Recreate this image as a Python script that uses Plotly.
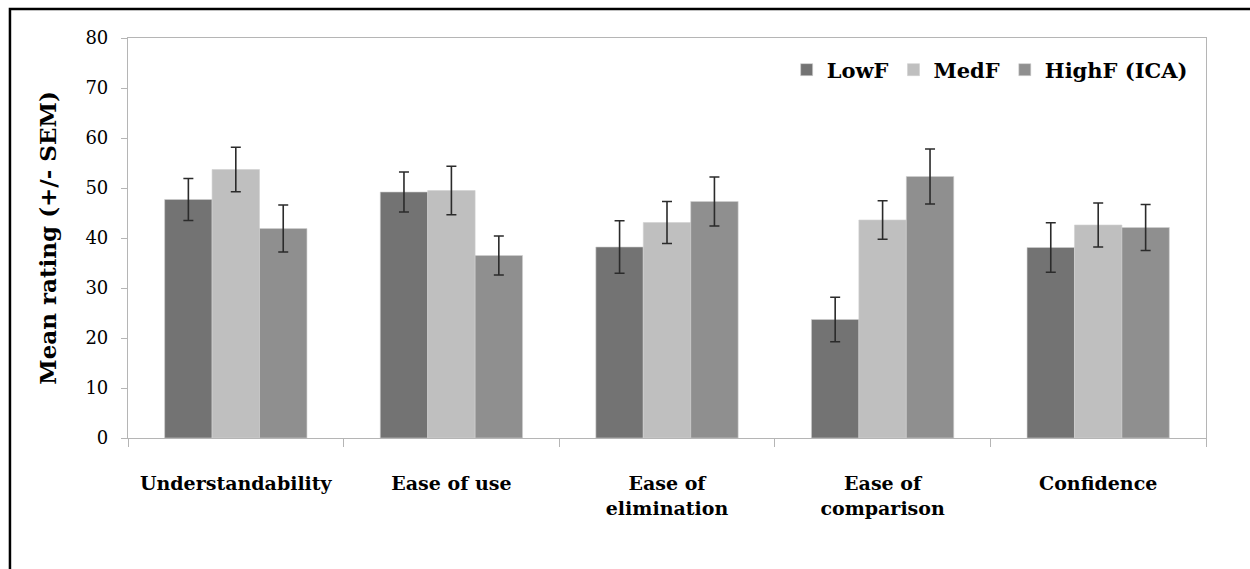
import plotly.graph_objects as go

categories = ["Understandability", "Ease of use", "Ease of<br>elimination", "Ease of<br>comparison", "Confidence"]
series_names = ["LowF", "MedF", "HighF (ICA)"]
low_vals = [47.7, 49.2, 38.2, 23.7, 38.1]
low_err = [4.2, 4.0, 5.25, 4.45, 4.95]
med_vals = [53.7, 49.5, 43.1, 43.6, 42.6]
med_err = [4.45, 4.85, 4.2, 3.85, 4.4]
high_vals = [41.9, 36.5, 47.3, 52.3, 42.1]
high_err = [4.7, 3.9, 4.9, 5.5, 4.6]
y_ticks = [0, 10, 20, 30, 40, 50, 60, 70, 80]

colors = ["#737373", "#bfbfbf", "#8f8f8f"]
FONT = "DejaVu Serif"

fig = go.Figure()
for name, vals, errs, col in zip(series_names, [low_vals, med_vals, high_vals],
                                 [low_err, med_err, high_err], colors):
    fig.add_trace(go.Bar(
        x=categories, y=vals, name="<b>" + name + "</b>",
        marker=dict(color=col, line=dict(color="#d0d0d0", width=0.6)),
        error_y=dict(type="data", array=errs, visible=True,
                     color="#2b2b2b", thickness=1.6, width=5),
    ))

fig.update_layout(
    width=1250, height=569,
    barmode="group", bargap=0.34, bargroupgap=0,
    plot_bgcolor="white", paper_bgcolor="white",
    margin=dict(l=128, r=44, t=38, b=131),
    font=dict(family=FONT, color="black"),
    legend=dict(orientation="h", x=0.611, y=0.92, xanchor="left", yanchor="middle",
                font=dict(family=FONT, size=21, color="black"),
                bgcolor="rgba(0,0,0,0)", itemwidth=30, traceorder="normal"),
    shapes=[dict(type="rect", xref="paper", yref="paper",
                 x0=-0.1095, x1=1.3, y0=-0.6, y1=1.0726,
                 line=dict(color="black", width=2.5), layer="above")],
)
fig.update_yaxes(
    range=[0, 80], tickvals=y_ticks, showgrid=False, zeroline=False,
    showline=True, linecolor="#b5b5b5", linewidth=1.2, mirror=True,
    ticks="outside", ticklen=6, tickcolor="#b5b5b5",
    ticklabelstandoff=9,
    tickfont=dict(family=FONT, size=18, color="black"),
    title=dict(text="<b>Mean rating (+/- SEM)</b>", standoff=22,
               font=dict(family=FONT, size=23, color="black")),
)
fig.update_xaxes(
    showgrid=False, showline=True, linecolor="#b5b5b5", linewidth=1.2, mirror=True,
    ticks="outside", ticklen=8, tickcolor="#b5b5b5", tickson="boundaries",
    tickfont=dict(family=FONT, size=19, color="black"),
    ticklabelstandoff=28,
    tickvals=categories, ticktext=["<b>" + c.replace("<br>", "</b><br><b>") + "</b>" for c in categories],
)

fig.write_html("out.html", config={"displayModeBar": False},
               post_script="document.body.style.margin='0';document.body.style.overflow='hidden';")
